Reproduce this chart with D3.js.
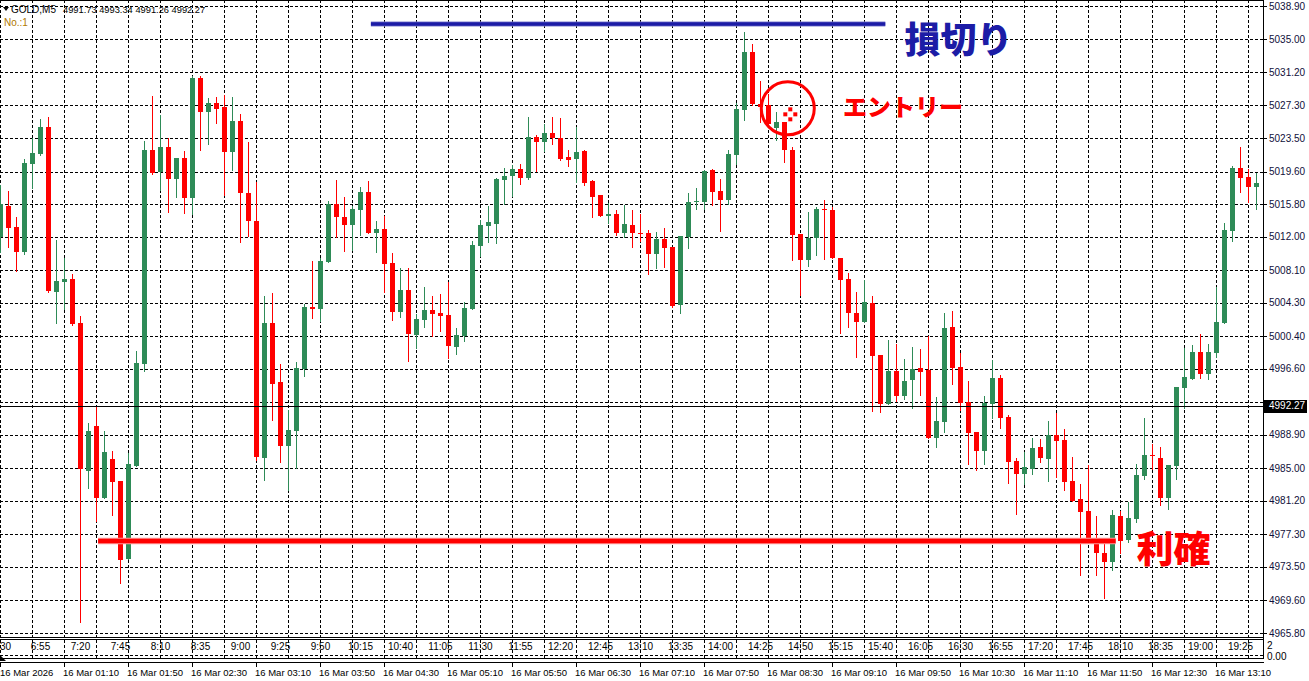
<!DOCTYPE html>
<html><head><meta charset="utf-8">
<script src="https://cdn.jsdelivr.net/npm/d3@7"></script>
<style>html,body{margin:0;padding:0;background:#fff;overflow:hidden}</style>
</head><body>
<script>
// ---------- DATA ----------
const opens = [5011.97,5015.58,5013.13,5010.22,5020.48,5021.64,5024.79,5005.56,5006.73,5007.07,
5001.94,4984.69,4989.93,4981.54,4986.09,4983.52,4974.43,4985.27,4997.16,5022.11,
5019.55,5022.46,5018.73,5021.18,5016.52,5030.51,5026.54,5027.59,5027.13,5021.88,
5025.49,5017.10,5013.83,4986.21,5001.94,4995.07,4987.60,4989.35,4996.58,5003.81,
5003.57,5009.05,5015.81,5014.30,5013.37,5015.12,5017.22,5012.44,5012.90,5008.94,
5003.22,5005.79,5000.54,5002.29,5003.46,5003.11,5002.88,4999.15,5000.43,5003.57,
5010.92,5013.25,5013.48,5018.61,5019.08,5019.90,5018.85,5023.63,5023.04,5024.09,
5023.51,5021.30,5021.06,5022.00,5018.50,5016.87,5014.42,5014.65,5012.44,5013.37,
5012.44,5012.44,5009.98,5011.74,5010.80,5004.04,5011.97,5016.05,5016.05,5019.78,
5017.33,5016.28,5021.53,5026.78,5033.54,5027.47,5027.36,5024.68,5025.38,5022.11,
5012.32,5009.29,5011.85,5015.23,5015.12,5009.52,5007.07,5003.11,5002.06,5004.27,
4998.21,4992.50,4996.34,4993.43,4995.30,4996.69,4996.46,4988.53,4990.40,5001.48,
4996.81,4992.73,4989.23,4987.02,4992.50,4995.53,4990.98,4985.85,4984.34,4984.92,
4987.49,4986.09,4988.88,4988.30,4983.52,4981.42,4980.02,4976.88,4975.13,4974.08,
4979.44,4976.64,4979.09,4984.10,4986.55,4986.21,4981.54,4985.27,4994.36,4995.41,
4998.56,4996.00,4998.44,5001.94,5012.67,5020.01,5018.96,5017.80];
const highs = [5018.03,5017.33,5014.30,5021.07,5023.51,5025.73,5025.96,5011.62,5009.52,5007.65,
5002.76,4990.28,4992.27,4989.35,4987.02,4983.52,4986.79,4998.68,5023.16,5028.41,
5026.19,5023.51,5021.18,5022.00,5030.74,5030.74,5028.17,5028.29,5028.52,5028.29,
5026.31,5023.04,5018.38,5005.09,5005.44,4997.16,4991.80,4997.39,5004.16,5009.17,
5009.52,5016.17,5018.61,5016.63,5015.58,5017.80,5018.50,5013.83,5014.42,5010.10,
5008.35,5008.35,5003.00,5006.14,5005.09,5005.32,5006.73,5001.36,5004.39,5011.50,
5013.95,5015.58,5018.85,5020.01,5020.36,5020.48,5025.96,5023.86,5025.14,5025.96,
5025.84,5022.11,5024.79,5022.11,5018.61,5016.87,5015.93,5015.12,5015.70,5015.12,
5014.65,5012.79,5012.55,5013.02,5010.80,5012.08,5017.10,5017.68,5019.78,5019.90,
5018.73,5022.11,5027.59,5035.87,5034.47,5030.16,5028.64,5026.54,5025.38,5022.46,
5012.32,5014.88,5015.47,5016.28,5015.47,5009.52,5007.77,5005.56,5006.96,5005.09,
4998.21,4999.96,4999.49,4997.74,4999.15,4998.91,5000.43,4993.31,5003.11,5003.34,
4998.44,4995.18,4989.23,4993.43,4997.63,4995.88,4991.22,4986.21,4986.91,4988.53,
4988.42,4990.52,4991.45,4989.58,4986.32,4983.17,4985.39,4979.44,4976.18,4980.14,
4980.02,4981.07,4985.50,4990.87,4987.84,4987.49,4985.39,4994.48,4999.03,4999.38,
5000.66,4999.49,5006.14,5013.60,5020.25,5022.46,5019.90,5019.43];
const lows = [5010.22,5010.80,5008.00,5009.98,5017.68,5021.53,5005.56,5001.94,5003.57,5001.71,
4967.08,4982.70,4978.86,4981.54,4979.56,4971.63,4974.43,4985.27,4996.34,5019.31,
5017.45,5014.88,5016.63,5014.77,5014.65,5022.11,5022.81,5025.26,5016.87,5019.78,
5011.39,5012.08,4985.97,4983.64,4990.63,4985.74,4982.47,4985.04,4995.77,5002.53,
5002.17,5009.05,5011.97,5010.34,5010.45,5012.20,5012.44,5010.22,5005.56,5002.29,
5002.64,4997.51,4999.03,5001.48,5000.43,5001.01,4997.86,4998.33,4999.84,5003.57,
5009.75,5011.39,5011.27,5015.81,5016.75,5018.15,5018.73,5019.66,5022.00,5022.81,
5020.95,5020.25,5018.38,5018.03,5014.30,5014.42,5013.60,5012.20,5011.97,5010.80,
5011.50,5007.65,5008.35,5008.47,5003.81,5003.11,5010.69,5015.23,5015.23,5015.70,
5012.67,5015.81,5020.48,5025.61,5027.36,5025.38,5025.14,5023.28,5020.71,5009.29,
5005.21,5008.59,5009.87,5009.40,5009.52,5000.78,5001.48,4997.98,5002.06,4991.68,
4991.57,4992.50,4992.85,4993.08,4992.03,4993.55,4988.53,4987.49,4989.23,4994.83,
4991.80,4985.50,4984.80,4985.50,4990.87,4989.70,4983.29,4979.67,4983.17,4984.34,
4985.74,4983.52,4983.99,4982.47,4981.19,4972.56,4976.76,4972.56,4969.88,4973.15,
4975.13,4976.41,4978.74,4983.76,4984.92,4980.72,4980.26,4983.76,4992.03,4995.41,
4995.53,4995.41,4997.98,5001.94,5011.50,5017.22,5016.05,5015.23];
const closes = [5015.81,5013.02,5010.22,5020.60,5021.76,5024.79,5005.67,5006.84,5007.07,5001.82,
4984.92,4989.35,4981.54,4986.91,4983.41,4974.31,4985.50,4997.28,5022.11,5019.43,
5022.46,5018.73,5021.18,5016.52,5030.51,5026.54,5027.59,5026.89,5021.88,5025.49,
5017.10,5013.83,4986.32,5001.94,4994.83,4987.60,4989.47,4996.69,5003.81,5003.57,
5009.17,5015.81,5014.30,5013.37,5015.23,5017.22,5012.44,5012.90,5008.82,5003.22,
5005.79,5000.66,5002.41,5003.46,5003.00,5002.76,4999.26,5000.54,5003.69,5011.04,
5013.37,5013.72,5018.73,5019.08,5019.90,5018.85,5023.63,5023.04,5024.09,5023.51,
5021.06,5020.95,5021.88,5018.26,5016.63,5014.42,5014.65,5012.44,5013.48,5012.44,
5012.32,5009.98,5011.74,5010.69,5003.92,5012.08,5016.05,5016.17,5019.66,5017.22,
5016.28,5021.64,5026.89,5033.54,5027.47,5027.13,5025.14,5025.38,5022.11,5012.20,
5009.29,5011.85,5015.23,5015.12,5009.52,5006.96,5003.11,5002.06,5004.39,4998.10,
4992.50,4996.34,4993.43,4995.18,4996.58,4996.23,4988.53,4990.52,5001.36,4996.69,
4992.62,4989.12,4987.02,4992.62,4995.53,4990.87,4985.74,4984.34,4985.15,4987.37,
4986.21,4988.88,4988.18,4983.41,4981.19,4979.91,4976.76,4975.13,4974.08,4979.56,
4976.53,4979.21,4984.22,4986.55,4986.44,4981.54,4985.39,4994.48,4995.65,4998.56,
4996.00,4998.56,5002.06,5012.79,5020.01,5018.85,5017.80,5018.26];

const priceTicks = ["5038.90","5035.00","5031.20","5027.30","5023.50","5019.60","5015.80","5012.00",
"5008.10","5004.30","5000.40","4996.60","4992.70","4988.90","4985.00","4981.20","4977.30",
"4973.50","4969.60","4965.80"];
const hiddenTick = "4992.70"; // covered by the current-price box
const currentPrice = 4992.27;
const headerValues = ["4991.73","4993.34","4991.26","4992.27"];
const topTimeLabels = ["30","6:55","7:20","7:45","8:10","8:35","9:00","9:25","9:50","10:15",
"10:40","11:05","11:30","11:55","12:20","12:45","13:10","13:35","14:00","14:25","14:50",
"15:15","15:40","16:05","16:30","16:55","17:20","17:45","18:10","18:35","19:00","19:25"];
const dateLabels = ["16 Mar 2026","16 Mar 01:10","16 Mar 01:50","16 Mar 02:30","16 Mar 03:10",
"16 Mar 03:50","16 Mar 04:30","16 Mar 05:10","16 Mar 05:50","16 Mar 06:30","16 Mar 07:10",
"16 Mar 07:50","16 Mar 08:30","16 Mar 09:10","16 Mar 09:50","16 Mar 10:30","16 Mar 11:10",
"16 Mar 11:50","16 Mar 12:30","16 Mar 13:10"];
// annotations (bar index / price)
const stopLossLine = [46.3, 110.6, 5036.80];
const takeProfitLine = [12.2, 139.4, 4976.53];
const entryPoint = [98.6, 5026.27];
const annotationTexts = [
  {text:"損切り", bar:113.0, price:5033.40, color:"#1c1ca6", size:36},
  {text:"エントリー", bar:105.3, price:5026.10, color:"#ff0000", size:24},
  {text:"利確", bar:142.0, price:4974.00, color:"#ff0000", size:37}
];

// ---------- LAYOUT ----------
const W = 1309, H = 681;
const plotR = 1263, plotB = 637;
const FONT = "'Liberation Sans', Arial, sans-serif";

const svg = d3.select("body").append("svg").attr("width", W).attr("height", H)
  .style("display","block").style("background","#fff");

const x = d3.scaleLinear().domain([0, 157]).range([0.5, 1256.5]);
const y = d3.scaleLinear().domain([4965.80, 5038.90]).range([633, 6]);
const crisp = v => Math.round(v) + 0.5;

svg.append("defs").append("clipPath").attr("id","plotclip").append("rect")
  .attr("x",0).attr("y",0).attr("width",plotR).attr("height",plotB);

// grid
const grid = svg.append("g").attr("stroke","#000").attr("stroke-width",1)
  .attr("stroke-dasharray","3,2");
grid.selectAll("line.h").data(priceTicks).join("line").attr("class","h")
  .attr("x1",0).attr("x2",plotR).attr("y1",d=>crisp(y(+d))).attr("y2",d=>crisp(y(+d)));
const vBars = d3.range(0, 158, 4);
grid.selectAll("line.v").data(vBars).join("line").attr("class","v")
  .attr("x1",d=>x(d)).attr("x2",d=>x(d)).attr("y1",0).attr("y2",658);
grid.append("line").attr("x1",0).attr("x2",plotR).attr("y1",655.5).attr("y2",655.5);

// candles
const candles = svg.append("g").attr("clip-path","url(#plotclip)");
const idx = d3.range(opens.length);
const col = i => closes[i] >= opens[i] ? "#2e8b57" : "#ff0000";
candles.selectAll("line.wick").data(idx).join("line").attr("class","wick")
  .attr("x1",i=>x(i)).attr("x2",i=>x(i))
  .attr("y1",i=>Math.round(y(highs[i]))).attr("y2",i=>Math.round(y(lows[i]))+1)
  .attr("stroke",col).attr("stroke-width",1);
candles.selectAll("rect.body").data(idx).join("rect").attr("class","body")
  .attr("x",i=>x(i)-2.5).attr("width",5)
  .attr("y",i=>Math.round(y(Math.max(opens[i],closes[i]))))
  .attr("height",i=>Math.max(1, Math.round(y(Math.min(opens[i],closes[i]))) - Math.round(y(Math.max(opens[i],closes[i])))))
  .attr("fill",col);

// current price line
svg.append("line").attr("x1",0).attr("x2",plotR)
  .attr("y1",crisp(y(currentPrice))).attr("y2",crisp(y(currentPrice)))
  .attr("stroke","#000").attr("stroke-width",1);

// frame
const fr = svg.append("g").attr("stroke","#000").attr("stroke-width",1);
fr.append("line").attr("x1",0).attr("x2",plotR).attr("y1",0.5).attr("y2",0.5);
fr.append("line").attr("x1",plotR+0.5).attr("x2",plotR+0.5).attr("y1",0).attr("y2",659);
fr.append("line").attr("x1",0).attr("x2",plotR).attr("y1",plotB+0.5).attr("y2",plotB+0.5);
fr.append("line").attr("x1",0).attr("x2",plotR).attr("y1",639.5).attr("y2",639.5);
fr.append("line").attr("x1",0).attr("x2",plotR+1).attr("y1",658.5).attr("y2",658.5);

// right axis
const ax = svg.append("g");
ax.selectAll("line").data(priceTicks).join("line")
  .attr("x1",plotR).attr("x2",plotR+4).attr("y1",d=>crisp(y(+d))).attr("y2",d=>crisp(y(+d)))
  .attr("stroke","#000");
ax.selectAll("text").data(priceTicks.filter(d=>d!==hiddenTick)).join("text")
  .attr("x",1269).attr("y",d=>y(+d)).attr("dy","0.35em")
  .attr("font-family",FONT).attr("font-size",10).attr("fill","#10103a").text(d=>d);
const cp = svg.append("g");
cp.append("rect").attr("x",plotR+1).attr("y",Math.round(y(currentPrice))-6).attr("width",43).attr("height",13).attr("fill","#000");
cp.append("text").attr("x",1269).attr("y",y(currentPrice)).attr("dy","0.35em")
  .attr("font-family",FONT).attr("font-size",10).attr("fill","#fff").text(currentPrice.toFixed(2));
svg.append("text").attr("x",1267).attr("y",649).attr("font-family",FONT).attr("font-size",10).attr("fill","#000").text("2");
svg.append("text").attr("x",1267).attr("y",660).attr("font-family",FONT).attr("font-size",10).attr("fill","#000").text("0.00");

// top time labels (sub-window)
svg.append("g").selectAll("text").data(topTimeLabels).join("text")
  .attr("x",(d,k)=>k===0 ? 0 : x(k*5)).attr("y",650)
  .attr("text-anchor",(d,k)=>k===0 ? "start" : "middle")
  .attr("font-family",FONT).attr("font-size",10).attr("fill","#000").text(d=>d);

// bottom date axis
svg.append("line").attr("x1",0).attr("x2",plotR+1).attr("y1",662.5).attr("y2",662.5).attr("stroke","#000");
const da = svg.append("g");
da.selectAll("line").data(dateLabels).join("line")
  .attr("x1",(d,k)=>x(k*8)).attr("x2",(d,k)=>x(k*8)).attr("y1",662).attr("y2",667).attr("stroke","#000");
da.selectAll("text").data(dateLabels).join("text")
  .attr("x",(d,k)=>Math.max(0, x(k*8)-1.5)).attr("y",676)
  .attr("font-family",FONT).attr("font-size",9.5).attr("fill","#000").text(d=>d);
svg.append("path").attr("d","M0,655 L6,661 L0,661 Z").attr("fill","#000");

// header
const hd = svg.append("g").attr("font-family",FONT).attr("font-size",10).attr("fill","#000");
hd.append("path").attr("d","M3,7 L9,7 L6,11 Z").attr("fill","#000");
hd.append("text").attr("x",11).attr("y",13).text("GOLD,M5");
hd.append("text").attr("x",63).attr("y",13).attr("font-size",9.3).text(headerValues.join(" "));
hd.append("text").attr("x",4).attr("y",26).attr("fill","#b07800").text("No.:1");

// annotations
const an = svg.append("g");
const hline = (arr, halo, color, wHalo, w) => {
  an.append("line").attr("x1",x(arr[0])).attr("x2",x(arr[1]))
    .attr("y1",y(arr[2])).attr("y2",y(arr[2])).attr("stroke",halo).attr("stroke-width",wHalo);
  an.append("line").attr("x1",x(arr[0])).attr("x2",x(arr[1]))
    .attr("y1",y(arr[2])).attr("y2",y(arr[2])).attr("stroke",color).attr("stroke-width",w);
};
hline(stopLossLine, "#8080d0", "#1c1ca6", 5, 3.5);
hline(takeProfitLine, "#ff9a9a", "#ff0000", 6.5, 4.5);
const ex = x(entryPoint[0]), ey = y(entryPoint[1]);
an.append("circle").attr("cx",ex-1.5).attr("cy",ey-6).attr("r",26.5)
  .attr("fill","none").attr("stroke","#ff0000").attr("stroke-width",3);
[[0,-5],[-5,0],[5,0],[0,5]].forEach(([dx,dy])=>{
  an.append("rect").attr("x",ex+1+dx-2).attr("y",ey+dy-2).attr("width",4).attr("height",4).attr("fill","#ff0000");
});
an.selectAll("text").data(annotationTexts).join("text")
  .attr("x",d=>x(d.bar)).attr("y",d=>y(d.price))
  .attr("font-family","'Noto Sans CJK JP', sans-serif").attr("font-weight",900)
  .attr("font-size",d=>d.size).attr("fill",d=>d.color).text(d=>d.text);
</script>
</body></html>
